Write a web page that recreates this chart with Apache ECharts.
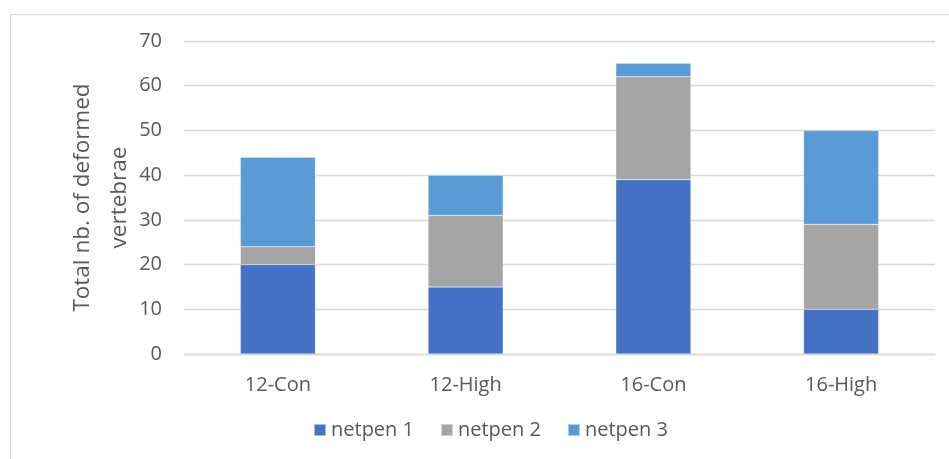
<!DOCTYPE html>
<html><head><meta charset="utf-8">
<script src="https://cdn.jsdelivr.net/npm/echarts@6/dist/echarts.min.js"></script>
<style>html,body{margin:0;padding:0;background:#fff}#c{width:949px;height:459px}</style>
</head><body><div id="c"></div>
<script>
const categories = ['12-Con', '12-High', '16-Con', '16-High'];
const netpen1 = [20, 15, 39, 10];
const netpen2 = [4, 16, 23, 19];
const netpen3 = [20, 9, 3, 21];
const seriesNames = ['netpen 1', 'netpen 2', 'netpen 3'];
const yTicks = [0, 10, 20, 30, 40, 50, 60, 70];

const colors = ['#4472C4', '#A5A5A5', '#5B9BD5'];
const font = 'Open Sans';
const chart = echarts.init(document.getElementById('c'));
const mk = (name, data, i) => ({
  name, type: 'bar', stack: 'total', data, barWidth: '40%',
  itemStyle: { color: colors[i], borderColor: 'rgba(255,255,255,0.5)', borderWidth: 0.5 }
});
chart.setOption({
  animation: false,
  color: colors,
  graphic: [{ type: 'rect', shape: { x: 10.5, y: 14.5, width: 960, height: 460 }, style: { fill: 'none', stroke: '#d9d9d9', lineWidth: 1 } }],
  grid: { left: 184, right: 14, top: 41, bottom: 105, containLabel: false },
  legend: {
    bottom: 14, left: 308, itemWidth: 12, itemHeight: 12, itemGap: 26,
    icon: 'rect', textStyle: { color: '#595959', fontSize: 20, fontFamily: font },
    data: seriesNames
  },
  xAxis: {
    type: 'category', data: categories,
    axisLine: { lineStyle: { color: '#d9d9d9', width: 1.3 } },
    axisTick: { show: false },
    axisLabel: { color: '#595959', fontSize: 20, fontFamily: font, margin: 21 }
  },
  yAxis: {
    type: 'value', min: yTicks[0], max: yTicks[yTicks.length - 1], interval: 10,
    name: 'Total nb. of deformed\nvertebrae', nameLocation: 'middle', nameGap: 46,
    nameMoveOverlap: false,
    nameTextStyle: { color: '#595959', fontSize: 22.5, fontFamily: font, lineHeight: 37 },
    axisLine: { show: false }, axisTick: { show: false },
    axisLabel: { color: '#595959', fontSize: 20, fontFamily: font, margin: 22 },
    splitLine: { lineStyle: { color: '#d9d9d9', width: 1.3 } }
  },
  series: [mk(seriesNames[0], netpen1, 0), mk(seriesNames[1], netpen2, 1), mk(seriesNames[2], netpen3, 2)]
});
</script></body></html>
